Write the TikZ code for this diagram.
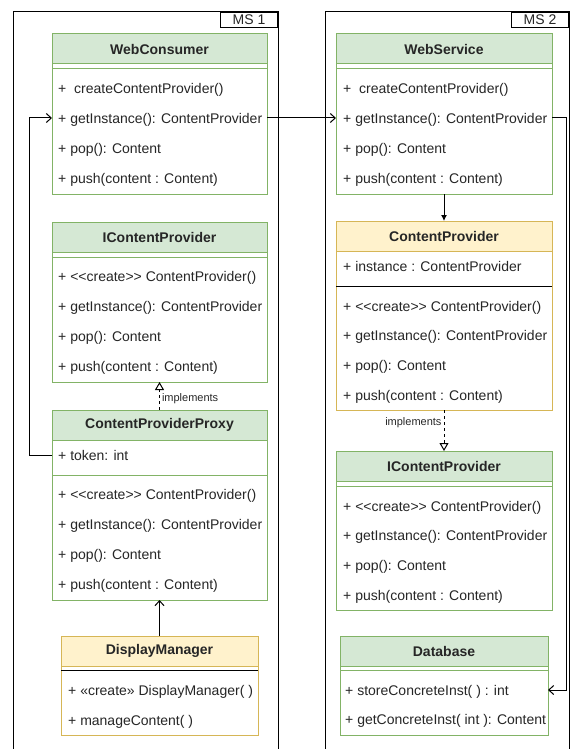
\documentclass[tikz,border=0pt]{standalone}
\usepackage{fontspec}
\setmainfont{Liberation Sans}
\usetikzlibrary{arrows.meta}
\definecolor{umlgreen}{HTML}{D5E8D4}
\definecolor{umlgreenline}{HTML}{82B366}
\definecolor{umlyellow}{HTML}{FFF2CC}
\definecolor{umlyellowline}{HTML}{D6B656}
\newcommand{\lguil}{<\kern0pt<}
\newcommand{\rguil}{>\kern0pt>}

\begin{document}
\begin{tikzpicture}[x=1pt,y=-1pt,
  every node/.style={font=\fontsize{14}{16}\selectfont, text=black!85},
  frame/.style={draw=black, line width=1pt},
  tag/.style={draw=black, line width=1pt, fill=white, anchor=north east, minimum width=57, minimum height=15, inner sep=0},
  gbody/.style={draw=umlgreenline, fill=white, line width=1pt, anchor=north west, inner sep=0, outer sep=0},
  ybody/.style={gbody, draw=umlyellowline},
  ghead/.style={gbody, fill=umlgreen, font=\fontsize{14}{16}\selectfont\bfseries},
  yhead/.style={ybody, fill=umlyellow, font=\fontsize{14}{16}\selectfont\bfseries},
  gline/.style={draw=umlgreenline, line width=1pt},
  bline/.style={draw=black, line width=1pt},
  item/.style={anchor=west, inner sep=0, text height=13, text depth=2},
  assoc/.style={draw=black, line width=1pt, -{Straight Barb[length=5,width=9]}},
  impl/.style={draw=black, line width=1pt, dash pattern=on 3pt off 3pt, -{Triangle[open,length=8,width=9,fill=white]}},
  uses/.style={draw=black, line width=1pt, -{Latex[length=6,width=6]}},
  small/.style={font=\fontsize{11}{12}\selectfont}
]
\useasboundingbox (0,0) rectangle (578,749);

% micro service frames
\draw[frame] (13,749) |- (278,12) -- (278,749);
\node[tag] (ms1) at (278,12) {MS 1};
\draw[frame] (325,749) |- (569,12) -- (569,749);
\node[tag] (ms2) at (569,12) {MS 2};

% WebConsumer
\node[gbody, minimum width=215, minimum height=160] (wcbox) at (52,34) {};
\node[ghead, minimum width=215, minimum height=30] (wchead) at (52,34) {WebConsumer};
\draw[gline] (52,69) -- (267,69);
\node[item] (wc1) at (58,88) {+\ \ createContentProvider()};
\node[item] (wc2) at (58,118) {+ getInstance(): ContentProvider};
\node[item] (wc3) at (58,148) {+ pop(): Content};
\node[item] (wc4) at (58,178) {+ push(content : Content)};

% WebService
\node[gbody, minimum width=216, minimum height=160] (wsbox) at (336,34) {};
\node[ghead, minimum width=216, minimum height=30] (wshead) at (336,34) {WebService};
\draw[gline] (336,69) -- (552,69);
\node[item] (ws1) at (343,88) {+\ \ createContentProvider()};
\node[item] (ws2) at (343,118) {+ getInstance(): ContentProvider};
\node[item] (ws3) at (343,148) {+ pop(): Content};
\node[item] (ws4) at (343,178) {+ push(content : Content)};

% IContentProvider (MS 1)
\node[gbody, minimum width=215, minimum height=160] (icplbox) at (52,222) {};
\node[ghead, minimum width=215, minimum height=30] (icplhead) at (52,222) {IContentProvider};
\draw[gline] (52,257) -- (267,257);
\node[item] (icpl1) at (58,276) {+ \lguil create\rguil\ ContentProvider()};
\node[item] (icpl2) at (58,306) {+ getInstance(): ContentProvider};
\node[item] (icpl3) at (58,336) {+ pop(): Content};
\node[item] (icpl4) at (58,366) {+ push(content : Content)};

% ContentProviderProxy
\node[gbody, minimum width=215, minimum height=190] (cppbox) at (52,410) {};
\node[ghead, minimum width=215, minimum height=30] (cpphead) at (52,410) {ContentProviderProxy};
\node[item] (cpptoken) at (58,455) {+ token: int};
\draw[gline] (52,475) -- (267,475);
\node[item] (cpp1) at (58,494) {+ \lguil create\rguil\ ContentProvider()};
\node[item] (cpp2) at (58,524) {+ getInstance(): ContentProvider};
\node[item] (cpp3) at (58,554) {+ pop(): Content};
\node[item] (cpp4) at (58,584) {+ push(content : Content)};

% DisplayManager
\node[ybody, minimum width=197, minimum height=99] (dmbox) at (61,636) {};
\node[yhead, minimum width=197, minimum height=30] (dmhead) at (61,636) {DisplayManager};
\draw[bline] (61,670) -- (258,670);
\node[item] (dm1) at (68,690) {+ «create» DisplayManager( )};
\node[item] (dm2) at (68,720) {+ manageContent( )};

% ContentProvider
\node[ybody, minimum width=216, minimum height=189] (cpbox) at (336,221) {};
\node[yhead, minimum width=216, minimum height=30] (cphead) at (336,221) {ContentProvider};
\node[item] (cpinst) at (343,266) {+ instance : ContentProvider};
\draw[bline] (336,286) -- (552,286);
\node[item] (cp1) at (343,306) {+ \lguil create\rguil\ ContentProvider()};
\node[item] (cp2) at (343,335) {+ getInstance(): ContentProvider};
\node[item] (cp3) at (343,365) {+ pop(): Content};
\node[item] (cp4) at (343,395) {+ push(content : Content)};

% IContentProvider (MS 2)
\node[gbody, minimum width=216, minimum height=159] (icprbox) at (336,451) {};
\node[ghead, minimum width=216, minimum height=30] (icprhead) at (336,451) {IContentProvider};
\draw[gline] (336,486) -- (552,486);
\node[item] (icpr1) at (343,506) {+ \lguil create\rguil\ ContentProvider()};
\node[item] (icpr2) at (343,535) {+ getInstance(): ContentProvider};
\node[item] (icpr3) at (343,565) {+ pop(): Content};
\node[item] (icpr4) at (343,595) {+ push(content : Content)};

% Database
\node[gbody, minimum width=208, minimum height=99] (dbbox) at (340,636) {};
\node[ghead, minimum width=208, minimum height=30] (dbhead) at (340,636) {Database};
\draw[gline] (340,670) -- (548,670);
\node[item] (db1) at (345,690) {+ storeConcreteInst( ) : int};
\node[item] (db2) at (345,719) {+ getConcreteInst( int ): Content};

% connectors
\draw[assoc] (wcbox.east |- wc2) -- (wsbox.west |- ws2);
\draw[assoc] (cppbox.west |- cpptoken) -- ++(-23,0) |- (wcbox.west |- wc2);
\draw[assoc] (wsbox.east |- ws2) -- ++(14,0) |- (dbbox.east |- db1);
\draw[uses] (wsbox.south) -- (cpbox.north);
\draw[assoc] (dmbox.north) -- (cppbox.south);
\draw[impl] (cppbox.north) -- (icplbox.south) node[pos=.4, right, small, inner sep=2] {implements};
\draw[impl] (cpbox.south) -- (icprbox.north) node[pos=.3, left, small, inner sep=2] {implements};
\end{tikzpicture}
\end{document}
